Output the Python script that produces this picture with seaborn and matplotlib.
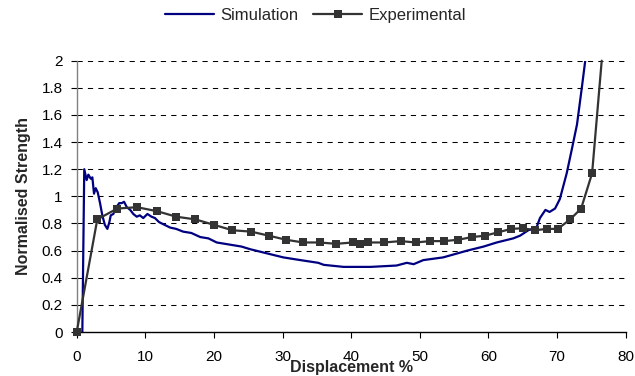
import matplotlib
matplotlib.use("Agg")
import matplotlib.pyplot as plt
import seaborn as sns
import pandas as pd

sim_x = [0.75, 0.82, 1.1, 1.45, 1.7, 2.04, 2.28, 2.52, 2.77, 3.06, 3.4, 3.73, 4.1, 4.47, 4.76,
         4.96, 5.34, 5.58, 5.92, 6.2, 6.56, 6.9, 7.3, 7.8, 8.25, 8.75, 9.2, 9.7, 10.3, 10.9,
         11.4, 12.0, 12.8, 13.6, 14.5, 15.5, 16.7, 18.0, 19.2, 20.4, 21.6, 22.8, 24.0, 25.3,
         27.7, 30.1, 32.6, 35.2, 36.0, 38.9, 42.8, 46.6, 48.1, 49.1, 50.5, 53.4, 56.9, 59.3,
         61.2, 63.6, 64.6, 65.8, 67.0, 67.5, 68.3, 68.9, 69.7, 70.4, 71.4, 72.2, 72.9, 73.6,
         74.1, 74.4]
sim_y = [-0.05, 0.0, 1.20, 1.12, 1.16, 1.13, 1.14, 1.02, 1.06, 1.03, 0.95, 0.86, 0.79, 0.76, 0.81,
         0.86, 0.87, 0.90, 0.93, 0.95, 0.95, 0.96, 0.92, 0.90, 0.87, 0.85, 0.86, 0.84, 0.87, 0.85,
         0.84, 0.81, 0.79, 0.77, 0.76, 0.74, 0.73, 0.70, 0.69, 0.66, 0.65, 0.64, 0.63, 0.61,
         0.58, 0.55, 0.53, 0.51, 0.495, 0.48, 0.48, 0.49, 0.51, 0.50, 0.53, 0.55, 0.60, 0.63,
         0.66, 0.69, 0.71, 0.75, 0.77, 0.84, 0.90, 0.885, 0.91, 0.98, 1.17, 1.36, 1.53, 1.80,
         2.0, 2.2]

exp_x = [0, 3.0, 5.9, 8.8, 11.75, 14.5, 17.3, 20.0, 22.7, 25.4, 28.0, 30.5, 33.0, 35.4, 37.8,
         40.2, 41.3, 42.5, 44.8, 47.2, 49.4, 51.5, 53.5, 55.6, 57.6, 59.5, 61.4, 63.3, 65.0,
         66.8, 68.5, 70.1, 71.9, 73.5, 75.1, 76.5]
exp_y = [0, 0.83, 0.91, 0.92, 0.89, 0.85, 0.83, 0.79, 0.75, 0.74, 0.71, 0.68, 0.66, 0.66, 0.65,
         0.66, 0.65, 0.66, 0.66, 0.67, 0.66, 0.67, 0.67, 0.68, 0.70, 0.71, 0.735, 0.76, 0.765,
         0.75, 0.76, 0.76, 0.83, 0.91, 1.17, 2.0]

x_ticks = [0, 10, 20, 30, 40, 50, 60, 70, 80]
y_ticks = [0, 0.2, 0.4, 0.6, 0.8, 1, 1.2, 1.4, 1.6, 1.8, 2]
y_tick_labels = ["0", "0.2", "0.4", "0.6", "0.8", "1", "1.2", "1.4", "1.6", "1.8", "2"]

sns.set_style("white")
plt.rcParams['font.family'] = ['Liberation Sans', 'DejaVu Sans']

sim_df = pd.DataFrame({"x": sim_x, "y": sim_y})
exp_df = pd.DataFrame({"x": exp_x, "y": exp_y})

fig = plt.figure(figsize=(6.35, 3.76), dpi=100)
ax = fig.add_axes([0.1208, 0.117, 0.8646, 0.7216])

for yv in y_ticks[1:]:
    ax.axhline(yv, color="black", lw=0.75, linestyle=(0, (5, 5)), zorder=0)

sns.lineplot(data=sim_df, x="x", y="y", sort=False, estimator=None, ax=ax,
             color="#000080", lw=1.6, label="Simulation")
sns.lineplot(data=exp_df, x="x", y="y", sort=False, estimator=None, ax=ax,
             color="#333333", lw=1.6, marker="s", markersize=5.5, markeredgewidth=0,
             markevery=slice(0, len(exp_x) - 1), label="Experimental")
ax.lines[-1].set_clip_on(False)
ax.lines[-1].set_zorder(5)

ax.set_xlim(0, 80)
ax.set_ylim(0, 2)
ax.set_xticks(x_ticks)
ax.set_yticks(y_ticks)
ax.set_yticklabels(y_tick_labels)
ax.tick_params(axis="both", labelsize=11, length=4, width=0.8, direction="out",
               colors="black")
ax.tick_params(axis="x", pad=9)
ax.tick_params(axis="y", pad=6)
ax.tick_params(left=True, bottom=True)
for s in ["top", "right"]:
    ax.spines[s].set_visible(False)
ax.spines["left"].set_color("#808080")
ax.spines["bottom"].set_color("#000000")
ax.spines["left"].set_linewidth(1.0)
ax.spines["bottom"].set_linewidth(1.0)

ax.set_xlabel("Displacement %", fontsize=11.5, fontweight="bold")
ax.set_ylabel("Normalised Strength", fontsize=11.5, fontweight="bold")
ax.xaxis.set_label_coords(0.5, -0.13)
ax.xaxis.label.set_va("center")
ax.yaxis.set_label_coords(-0.097, 0.5)
ax.yaxis.label.set_va("center")

ax.legend_.remove()
handles, labels = ax.get_legend_handles_labels()
fig.legend(handles, labels, loc="center", bbox_to_anchor=(0.497, 0.96), ncol=2,
           frameon=False, fontsize=12, handlelength=2.9, handletextpad=0.4,
           columnspacing=0.9, borderaxespad=0)

fig.savefig("out.png", dpi=100)
